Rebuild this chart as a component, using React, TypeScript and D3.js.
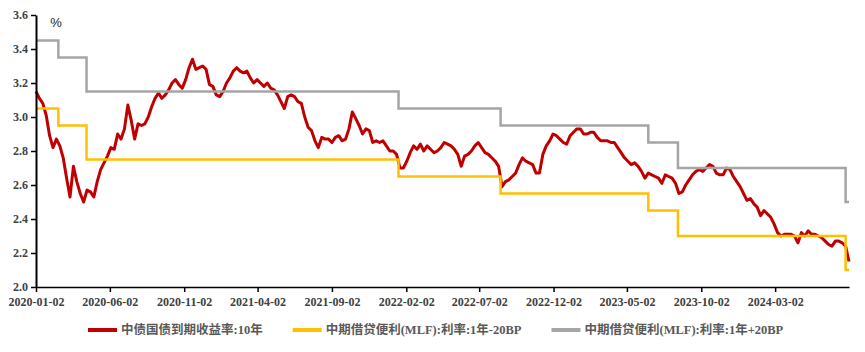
import React, { useEffect, useRef } from 'react';
import * as d3 from 'd3';

// 10Y CGB yield, weekly readings starting 2020-01-02
const yieldStart = '2020-01-02';
const yieldValues = [
  3.15, 3.11, 3.08, 3.01, 2.89, 2.82, 2.87, 2.83, 2.76, 2.64,
  2.53, 2.71, 2.62, 2.55, 2.50, 2.57, 2.56, 2.53, 2.62, 2.69,
  2.73, 2.77, 2.82, 2.81, 2.90, 2.87, 2.93, 3.07, 2.98, 2.87,
  2.96, 2.95, 2.96, 3.00, 3.06, 3.11, 3.14, 3.11, 3.13, 3.16,
  3.20, 3.22, 3.19, 3.17, 3.22, 3.29, 3.34, 3.28, 3.29, 3.30,
  3.28, 3.19, 3.18, 3.13, 3.12, 3.15, 3.20, 3.23, 3.27, 3.29,
  3.27, 3.26, 3.27, 3.23, 3.20, 3.22, 3.20, 3.18, 3.20, 3.17,
  3.16, 3.13, 3.09, 3.05, 3.12, 3.13, 3.12, 3.09, 3.08, 3.00,
  2.94, 2.92, 2.86, 2.82, 2.88, 2.87, 2.87, 2.85, 2.88, 2.89,
  2.86, 2.87, 2.93, 3.03, 2.99, 2.95, 2.90, 2.93, 2.92, 2.85,
  2.86, 2.85, 2.86, 2.83, 2.80, 2.80, 2.78, 2.70, 2.70, 2.74,
  2.79, 2.83, 2.81, 2.84, 2.80, 2.83, 2.81, 2.79, 2.80, 2.82,
  2.85, 2.84, 2.83, 2.81, 2.78, 2.71, 2.77, 2.78, 2.80, 2.83,
  2.85, 2.82, 2.79, 2.78, 2.76, 2.74, 2.71, 2.59, 2.62, 2.63,
  2.65, 2.67, 2.72, 2.76, 2.74, 2.73, 2.72, 2.67, 2.67, 2.78,
  2.83, 2.86, 2.90, 2.89, 2.87, 2.85, 2.84, 2.89, 2.91, 2.93,
  2.93, 2.90, 2.90, 2.91, 2.91, 2.88, 2.86, 2.86, 2.86, 2.85,
  2.85, 2.82, 2.79, 2.76, 2.74, 2.72, 2.73, 2.71, 2.68, 2.64,
  2.67, 2.66, 2.65, 2.64, 2.61, 2.66, 2.65, 2.64, 2.61, 2.55,
  2.56, 2.60, 2.63, 2.66, 2.68, 2.69, 2.68, 2.70, 2.72, 2.71,
  2.67, 2.66, 2.66, 2.70, 2.69, 2.65, 2.62, 2.59, 2.55, 2.51,
  2.52, 2.49, 2.47, 2.42, 2.45, 2.43, 2.41, 2.37, 2.32, 2.30,
  2.31, 2.31, 2.31, 2.30, 2.26, 2.32, 2.30, 2.33, 2.31, 2.31,
  2.30, 2.29, 2.27, 2.25, 2.24, 2.27, 2.27, 2.26, 2.24, 2.15,
];

// MLF rate change dates and the two bands
const policyDates = [
  '2020-01-02', '2020-02-17', '2020-04-15', '2022-01-17',
  '2022-08-15', '2023-06-15', '2023-08-15', '2024-07-25',
];
const mlfMinus20 = [3.05, 2.95, 2.75, 2.65, 2.55, 2.45, 2.30, 2.10];
const mlfPlus20 = [3.45, 3.35, 3.15, 3.05, 2.95, 2.85, 2.70, 2.50];

const xTickLabels = [
  '2020-01-02', '2020-06-02', '2020-11-02', '2021-04-02', '2021-09-02', '2022-02-02',
  '2022-07-02', '2022-12-02', '2023-05-02', '2023-10-02', '2024-03-02',
];
const yTicks = [2.0, 2.2, 2.4, 2.6, 2.8, 3.0, 3.2, 3.4, 3.6];

const seriesNames = [
  '中债国债到期收益率:10年',
  '中期借贷便利(MLF):利率:1年-20BP',
  '中期借贷便利(MLF):利率:1年+20BP',
];
const seriesColors = ['#C00000', '#FFC000', '#A5A5A5'];

const W = 865;
const H = 352;
const FONT = '"Liberation Serif", "Noto Sans CJK SC", serif';

const App = () => {
  const ref = useRef<SVGSVGElement>(null);

  useEffect(() => {
    const svg = d3.select(ref.current);
    svg.selectAll('*').remove();

    const parse = d3.timeParse('%Y-%m-%d');
    const start = parse(yieldStart) as Date;
    const yieldData = yieldValues.map((v, i) => ({ date: d3.timeDay.offset(start, i * 7), value: v }));
    const endDate = yieldData[yieldData.length - 1].date;

    const stepData = (vals: number[]) => {
      const pts = vals.map((v, i) => ({ date: parse(policyDates[i]) as Date, value: v }));
      pts.push({ date: endDate, value: vals[vals.length - 1] });
      return pts;
    };

    const margin = { top: 15, right: 16, bottom: 65, left: 36 };
    const x = d3.scaleTime().domain([start, endDate]).range([margin.left, W - margin.right]);
    const y = d3.scaleLinear().domain([2.0, 3.6]).range([H - margin.bottom, margin.top]);

    const line = d3.line<{ date: Date; value: number }>()
      .x(d => x(d.date))
      .y(d => y(d.value));
    const stepLine = d3.line<{ date: Date; value: number }>()
      .x(d => x(d.date))
      .y(d => y(d.value))
      .curve(d3.curveStepAfter);

    svg.append('path')
      .datum(yieldData)
      .attr('fill', 'none')
      .attr('stroke', seriesColors[0])
      .attr('stroke-width', 3)
      .attr('stroke-linejoin', 'round')
      .attr('d', line);

    svg.append('path')
      .datum(stepData(mlfMinus20))
      .attr('fill', 'none')
      .attr('stroke', seriesColors[1])
      .attr('stroke-width', 2.5)
      .attr('d', stepLine);

    svg.append('path')
      .datum(stepData(mlfPlus20))
      .attr('fill', 'none')
      .attr('stroke', seriesColors[2])
      .attr('stroke-width', 2.5)
      .attr('d', stepLine);

    // axes
    const yAxis = svg.append('g')
      .attr('transform', `translate(${margin.left},0)`)
      .call(d3.axisLeft(y).tickValues(yTicks).tickFormat(d3.format('.1f')).tickSize(5).tickSizeOuter(0));
    yAxis.select('.domain').attr('stroke', '#000').attr('stroke-width', 2);
    yAxis.selectAll('.tick line').attr('stroke', '#000').attr('stroke-width', 1.5);
    yAxis.selectAll('.tick text')
      .attr('x', -8)
      .style('font-family', FONT)
      .style('font-size', '12px')
      .style('font-weight', 'bold')
      .attr('fill', '#404040');

    const xAxis = svg.append('g')
      .attr('transform', `translate(0,${H - margin.bottom})`)
      .call(d3.axisBottom(x)
        .tickValues(xTickLabels.map(s => parse(s) as Date))
        .tickFormat(d3.timeFormat('%Y-%m-%d') as any)
        .tickSize(5)
        .tickSizeOuter(0));
    xAxis.select('.domain').attr('stroke', '#000').attr('stroke-width', 1.5);
    xAxis.selectAll('.tick line').attr('stroke', '#000').attr('stroke-width', 1.5);
    xAxis.selectAll('.tick text')
      .attr('y', 10)
      .style('font-family', FONT)
      .style('font-size', '12px')
      .style('font-weight', 'bold')
      .attr('fill', '#404040');

    svg.append('text')
      .attr('x', 56)
      .attr('y', 27)
      .attr('text-anchor', 'middle')
      .style('font-family', '"Liberation Sans", Arial, sans-serif')
      .style('font-size', '13px')
      .attr('fill', '#222')
      .text('%');

    // legend
    const legend = svg.append('g').attr('transform', `translate(88,${H - 22})`);
    let lx = 0;
    seriesNames.forEach((name, i) => {
      legend.append('line')
        .attr('x1', lx).attr('x2', lx + 29)
        .attr('y1', 0).attr('y2', 0)
        .attr('stroke', seriesColors[i])
        .attr('stroke-width', 4);
      const t = legend.append('text')
        .attr('x', lx + 33)
        .attr('y', 0)
        .attr('dy', '0.35em')
        .style('font-family', FONT)
        .style('font-size', '12.5px')
        .style('font-weight', 'bold')
        .attr('fill', '#595959')
        .text(name);
      const tw = (t.node() as SVGTextElement).getComputedTextLength();
      lx += 33 + tw + 30;
    });
  }, []);

  return (
    <div style={{ position: 'absolute', left: 0, top: 0, width: W, height: H, background: '#fff' }}>
      <svg ref={ref} width={W} height={H}></svg>
    </div>
  );
};

export default App;
